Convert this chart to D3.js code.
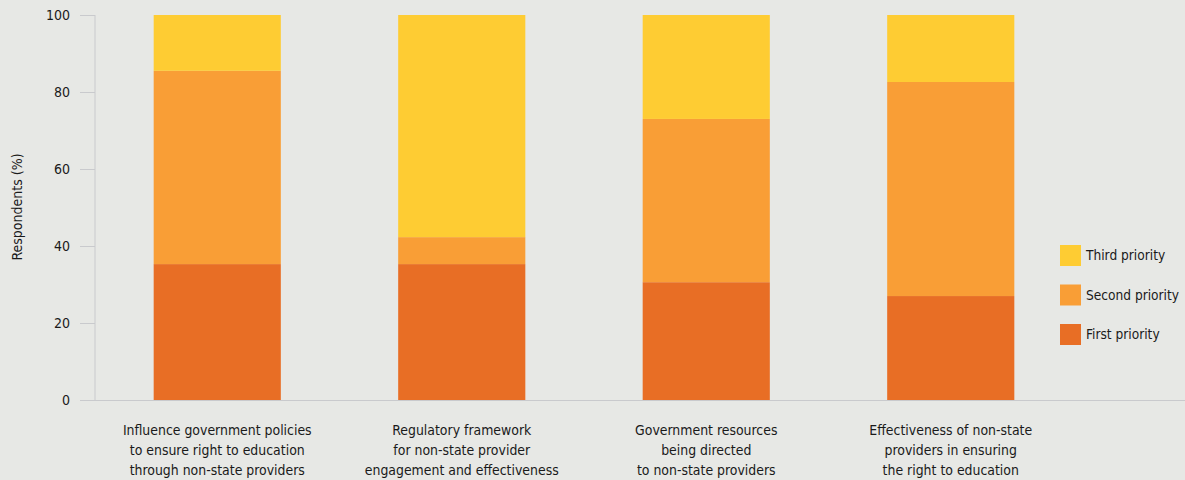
<!DOCTYPE html>
<html><head><meta charset="utf-8">
<script src="https://cdn.jsdelivr.net/npm/d3@7"></script>
<style>
body{margin:0;background:#e7e8e5;}
svg{display:block;}
text{font-family:"Liberation Sans Narrow","DejaVu Sans Condensed","Roboto Condensed",sans-serif;fill:#1a1a1a;}
</style></head>
<body>
<svg id="chart" width="1185" height="480"></svg>
<script>
const categories = [
  ["Influence government policies","to ensure right to education","through non-state providers"],
  ["Regulatory framework","for non-state provider","engagement and effectiveness"],
  ["Government resources","being directed","to non-state providers"],
  ["Effectiveness of non-state","providers in ensuring","the right to education"]
];
const firstPriority  = [35.3, 35.3, 30.6, 27.0];
const secondPriority = [50.2, 7.0, 42.4, 55.6];
const thirdPriority  = [14.5, 57.7, 27.0, 17.4];
const seriesNames = ["First priority","Second priority","Third priority"];
const colors = ["#e86e25","#f99e36","#fecc33"];
const yTicks = [0,20,40,60,80,100];

const svg = d3.select("#chart");
const W = 1185, H = 480;
svg.append("rect").attr("width",W).attr("height",H).attr("fill","#e7e8e5");

const x = d3.scaleBand().domain(d3.range(categories.length)).range([95,1073]).paddingInner(0.48).paddingOuter(0.24);
const y = d3.scaleLinear().domain([0,100]).range([400,15]);

const rows = categories.map((c,i)=>({i, s0:firstPriority[i], s1:secondPriority[i], s2:thirdPriority[i]}));
const stacked = d3.stack().keys(["s0","s1","s2"])(rows);

svg.append("line").attr("x1",95).attr("x2",95).attr("y1",y(100)).attr("y2",y(0)).attr("stroke","#c9cacd").attr("stroke-width",1);
svg.append("line").attr("x1",80).attr("x2",1185).attr("y1",y(0)+0.5).attr("y2",y(0)+0.5).attr("stroke","#c9cacd").attr("stroke-width",1);
const tg = svg.append("g");
yTicks.forEach(t=>{
  tg.append("line").attr("x1",80).attr("x2",95).attr("y1",Math.round(y(t))+0.5).attr("y2",Math.round(y(t))+0.5).attr("stroke","#c9cacd");
  tg.append("text").attr("x",70).attr("y",y(t)).attr("dy","0.35em").attr("text-anchor","end").attr("font-size",14).text(t);
});
svg.append("text").attr("transform","translate(22,207) rotate(-90)").attr("text-anchor","middle").attr("font-size",14).text("Respondents (%)");

stacked.forEach((layer,k)=>{
  svg.append("g").selectAll("rect").data(layer).join("rect")
    .attr("x",d=>x(d.data.i)).attr("width",x.bandwidth())
    .attr("y",d=>y(d[1])).attr("height",d=>y(d[0])-y(d[1]))
    .attr("fill",colors[k]);
});

categories.forEach((lines,i)=>{
  const t = svg.append("text").attr("text-anchor","middle").attr("font-size",13.9);
  lines.forEach((l,j)=>{
    t.append("tspan").attr("x",x(i)+x.bandwidth()/2).attr("y",435+j*20).text(l);
  });
});

const legendOrder = [2,1,0];
legendOrder.forEach((k,j)=>{
  const yy = 245 + j*39.5;
  svg.append("rect").attr("x",1060).attr("y",yy).attr("width",21).attr("height",21).attr("fill",colors[k]);
  svg.append("text").attr("x",1086).attr("y",yy+10.5).attr("dy","0.35em").attr("font-size",13.6).text(seriesNames[k]);
});
</script>
</body></html>
